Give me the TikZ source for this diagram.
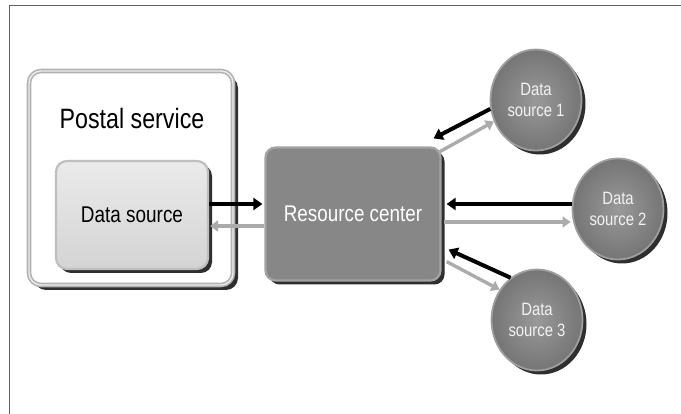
\documentclass[tikz,border=0pt]{standalone}
\usepackage{fontspec}
\setmainfont[FakeStretch=0.83]{Liberation Sans}
\usetikzlibrary{shapes.geometric,shadows,arrows.meta}
\begin{document}
\begin{tikzpicture}[x=1pt,y=-1pt,
  frame/.style={draw=black!62,line width=1pt},
  shd/.style={drop shadow={shadow xshift=#1,shadow yshift=-#1,fill=black!82,opacity=1}},
  shd/.default=4pt,
  outerbox/.style={rectangle,rounded corners=12pt,draw=black!30,line width=1.6pt,double=white!92!black,double distance=1.4pt,fill=white,minimum width=204pt,minimum height=214pt,shd=5pt},
  innerbox/.style={rectangle,rounded corners=11pt,draw=black!25,line width=2.2pt,top color=black!8,bottom color=black!17,minimum width=152pt,minimum height=108pt,shd,text=black,font=\fontsize{22.8pt}{26pt}\selectfont},
  rcbox/.style={rectangle,rounded corners=10pt,draw=black!36,line width=2.2pt,fill=black!47,minimum width=175pt,minimum height=133pt,shd,text=white,font=\fontsize{22.7pt}{26pt}\selectfont},
  srccirc/.style={ellipse,draw=black!38,line width=1.8pt,inner color=black!40,outer color=black!54,minimum width=91pt,minimum height=101pt,inner sep=0pt,shd,text=white!95!black,align=center,font=\fontsize{17.9pt}{21pt}\selectfont},
  title/.style={text=black,font=\fontsize{28pt}{30pt}\selectfont,inner sep=0pt},
  blk/.style={draw=black,line width=4pt,-{Triangle[length=9pt,width=12pt]}},
  gry/.style={draw=black!33,line width=3.4pt,-{Triangle[length=8pt,width=11pt]}}
]
\useasboundingbox (0,0) rectangle (681,414);
\draw[frame] (9.5,414) -- (9.5,6) -- (681,6);

\node[outerbox] (postal) at (131,178) {};
\node[title] (postaltitle) at (132,118) {Postal service};
\node[innerbox] (ds) at (132,215) {Data source};
\node[rcbox] (rc) at (353,214) {Resource center};
\node[srccirc] (ds1) at (536,100) {Data\\source 1};
\node[srccirc] (ds2) at (618,209) {Data\\source 2};
\node[srccirc] (ds3) at (537,320) {Data\\source 3};

% data source <-> resource center
\draw[blk] ([yshift=11pt]ds.east) -- ([yshift=11pt,xshift=-2pt]ds.east -| rc.west);
\draw[gry] ([yshift=-12pt]rc.west) -- ([yshift=-12pt,xshift=1pt]rc.west -| ds.east);

% data source 1
\draw[blk] (ds1.191) -- ([shift={(-8,-8)}]rc.north east);
\draw[gry] ([shift={(-3,6)}]rc.north east) -- (ds1.207);

% data source 2
\draw[blk] ([yshift=5pt]ds2.west) -- ([yshift=5pt,xshift=5pt]ds2.west -| rc.east);
\draw[gry] ([yshift=-8pt,xshift=2pt]rc.east) -- ([yshift=-8pt,xshift=-1pt]rc.east -| ds2.west);

% data source 3
\draw[blk] (ds3.122) -- ([shift={(7,-32)}]rc.south east);
\draw[gry] ([shift={(5,-20)}]rc.south east) -- (ds3.141);
\end{tikzpicture}
\end{document}
